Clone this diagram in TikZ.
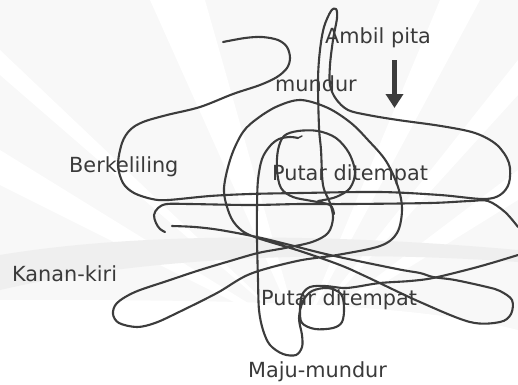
\documentclass[tikz,border=0pt]{standalone}
\usepackage{fontspec}
\setmainfont{DejaVu Sans}
\usetikzlibrary{arrows.meta}
\definecolor{ink}{HTML}{3C3C3C}
\definecolor{txt}{HTML}{3A3A3A}
\definecolor{bg}{HTML}{F8F8F8}
\definecolor{band}{HTML}{EFEFEF}
\tikzset{
  scribble/.style={draw=ink, line width=2.1pt, line cap=round, line join=round},
  lbl/.style={text=txt, anchor=base west, inner sep=0pt, font=\fontsize{20.8}{24}\selectfont},
  ray/.style={fill=white}
}
\begin{document}
\begin{tikzpicture}[x=1pt,y=-1pt]
\useasboundingbox (0,0) rectangle (518,384);
% faint watermark background
\fill[bg] (0,0) rectangle (518,384);
\fill[ray] (300,335) -- (150,0) -- (205,0) -- cycle;
\fill[ray] (300,335) -- (0,50) -- (0,75) -- cycle;
\fill[ray] (300,335) -- (440,0) -- (480,0) -- cycle;
\fill[ray] (300,335) -- (518,60) -- (518,95) -- cycle;
\fill[ray] (300,335) -- (0,150) -- (0,185) -- cycle;
\fill[ray] (300,335) -- (518,170) -- (518,200) -- cycle;
\fill[white] (0,300) -- (0,384) -- (518,384) -- (518,330) .. controls (400,300) and (200,300) .. (0,300) -- cycle;
\fill[band] (0,255) .. controls (150,230) and (350,235) .. (518,250) -- (518,262) .. controls (350,250) and (150,255) .. (0,290) -- cycle;

% main continuous scribble
\draw[scribble] plot[smooth, tension=0.55] coordinates {
 (223,42) (245,38) (262,37) (278,40) (287,47) (290,58) (287,68) (277,77) (260,85)
 (233,94) (200,107) (167,115) (143,122) (130,130) (122,143) (118,165) (123,183)
 (134,193) (152,199) (168,200) (210,196) (250,194) (300,193) (380,192) (440,195) (483,199)
 (500,195) (509,183) (509,163) (497,145) (475,133) (441,126) (398,120) (368,115)
 (348,110) (336,99) (330,85) (330,65) (333,40) (337,18) (336,9) (331,11) (324,27)
 (320,50) (318,80) (319,127) (321,150) (323,185) (330,203) (333,218) (328,233)
 (312,242) (285,248) (258,253) (230,261) (200,270) (167,281) (135,292) (117,303)
 (113,314) (119,323) (137,327) (155,323) (177,313) (217,293) (250,274) (297,261)
 (337,255) (380,246) (397,233) (402,210) (398,187) (386,161) (368,140) (351,123)
 (328,108) (301,100) (278,106) (258,118) (243,132) (231,157) (224,188) (228,210)
 (236,225) (252,236) (300,251) (340,265) (367,277) (420,302) (470,322) (500,322)
 (511,314) (512,300) (500,291) (487,287) (455,280) (433,277) (420,273) (397,269)
 (330,255) (290,245) (257,237) (220,230) (195,227) (172,226)
};
% lower horizontal with hook, entering from right edge
\draw[scribble] plot[smooth, tension=0.55] coordinates {
 (518,227) (505,212) (488,201) (470,201) (430,203) (350,204) (300,204) (250,205)
 (190,204) (167,204) (158,208) (154,215) (156,223) (160,229) (165,232)
};
% line from right edge through square loop, U and long vertical
\draw[scribble] plot[smooth, tension=0.55] coordinates {
 (518,255) (495,262) (470,269) (433,278) (410,281) (380,283) (355,287) (343,288)
 (325,286) (310,287) (302,295) (300,310) (302,323) (315,329) (333,328) (342,322)
 (344,308) (341,294) (328,288) (312,291) (303,301) (299,318) (302,335) (302,347)
 (296,355) (283,354) (270,345) (263,330) (259,310) (258,280) (257,240) (257,207)
 (258,180) (262,159) (270,146) (279,139) (290,137) (298,138)
};
% loop round "Putar ditempat"
\draw[scribble] plot[smooth, tension=0.55] coordinates {
 (318,201) (336,197) (350,188) (355,172) (349,153) (336,138) (318,131) (298,131)
 (284,136) (278,150) (277,170) (281,188) (293,197) (312,201) (330,205) (334,214)
};
\draw[ink, line width=1.5pt, line cap=round] (298,138) -- (302,136);

% arrow
\coordinate (arrtop) at (394.5,60);
\coordinate (arrbot) at (394.5,108);
\draw[ink, line width=4.8pt, -{Triangle[width=17pt,length=14pt]}] (arrtop) -- (arrbot);

% labels
\node[lbl] (ambil) at (325,43) {Ambil pita};
\node[lbl] (mundur) at (275,91) {mundur};
\node[lbl] (berk) at (69,172) {Berkeliling};
\node[lbl] (putar1) at (272,180) {Putar ditempat};
\node[lbl] (kanan) at (12,281) {Kanan-kiri};
\node[lbl] (putar2) at (261,305) {Putar ditempat};
\node[lbl] (maju) at (248,377) {Maju-mundur};
\end{tikzpicture}
\end{document}
